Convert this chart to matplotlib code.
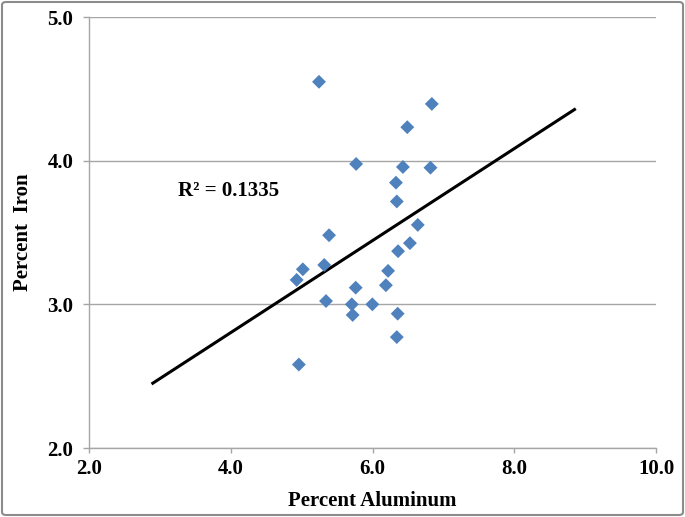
import matplotlib
matplotlib.use("Agg")
import matplotlib.pyplot as plt
from matplotlib.patches import FancyBboxPatch

# Data
aluminum = [5.245, 6.837, 6.491, 5.769, 6.429, 6.818, 6.331, 6.343, 6.639, 5.387,
            6.528, 6.361, 5.319, 5.017, 4.930, 6.220, 6.189, 5.763, 5.344, 5.708,
            5.998, 5.720, 6.355, 6.343, 4.961]
iron = [4.549, 4.395, 4.233, 3.977, 3.956, 3.951, 3.847, 3.716, 3.553, 3.481,
        3.426, 3.370, 3.274, 3.244, 3.170, 3.233, 3.133, 3.116, 3.023, 3.000,
        3.000, 2.926, 2.935, 2.772, 2.581]
trend_x = [2.90, 8.85]
trend_y = [2.451, 4.356]
r2_label = "R² = 0.1335"
x_ticks = [2.0, 4.0, 6.0, 8.0, 10.0]
y_ticks = [2.0, 3.0, 4.0, 5.0]

plt.rcParams['font.family'] = ['Liberation Serif', 'DejaVu Serif']
plt.rcParams['font.weight'] = 'bold'

fig = plt.figure(figsize=(6.85, 5.17), dpi=100)
ax = fig.add_axes([89/685, 1 - 448/517, (656 - 89)/685, (448 - 17)/517])

grid_c = '#a6a6a6'
ax.set_xlim(2, 10)
ax.set_ylim(2, 5)
ax.set_xticks(x_ticks)
ax.set_yticks(y_ticks)
ax.set_xticklabels([f"{v:.1f}" for v in x_ticks])
ax.set_yticklabels([f"{v:.1f}" for v in y_ticks])
ax.yaxis.grid(True, color=grid_c, linewidth=1.0)
ax.set_axisbelow(True)
for s in ['top', 'right']:
    ax.spines[s].set_visible(False)
for s in ['left', 'bottom']:
    ax.spines[s].set_color(grid_c)
    ax.spines[s].set_linewidth(1.0)
ax.tick_params(axis='y', direction='out', length=4.3, width=1, color=grid_c,
               labelsize=15, pad=7)
ax.tick_params(axis='x', direction='out', length=3.6, width=1, color=grid_c,
               labelsize=15, pad=4)
for lab in ax.get_xticklabels() + ax.get_yticklabels():
    lab.set_fontweight('bold')

ax.plot(trend_x, trend_y, color='black', linewidth=2.2, zorder=2)
ax.scatter(aluminum, iron, marker='D', s=50, color='#4f81bd', edgecolors='none', zorder=3)

ax.text(3.25, 3.755, r2_label, fontsize=15, fontweight='bold', va='baseline', ha='left')

ax.set_xlabel("Percent Aluminum", fontsize=15, fontweight='bold', labelpad=9)
ax.set_ylabel("Percent  Iron", fontsize=15, fontweight='bold', labelpad=10)

border = FancyBboxPatch((2/685, 2/517), 681/685, 513/517,
                        boxstyle="round,pad=0,rounding_size=0.006",
                        transform=fig.transFigure, fill=False,
                        edgecolor='#8c8c8c', linewidth=1.5)
fig.patches.append(border)

fig.savefig("out.png", dpi=100)
